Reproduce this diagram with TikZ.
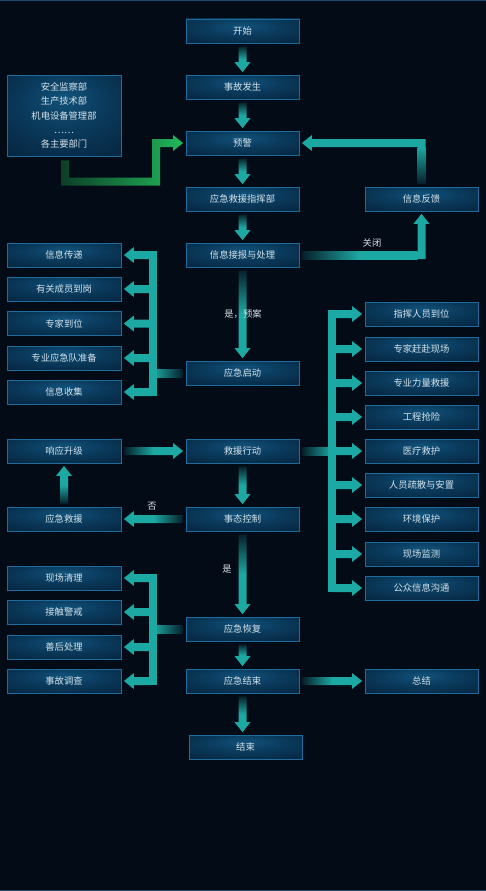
\documentclass[tikz,border=0pt]{standalone}
\usepackage{fontspec}
\newfontfamily\cjk{Noto Sans CJK SC}
\usetikzlibrary{calc}
\definecolor{bg}{HTML}{020B16}
\definecolor{tealc}{HTML}{1DA9A3}
\definecolor{tdark}{HTML}{06202B}
\definecolor{boxline}{HTML}{1D6C9B}
\definecolor{boxin}{HTML}{11527A}
\definecolor{boxmid}{HTML}{0A3A5C}
\definecolor{boxout}{HTML}{06243E}
\definecolor{txt}{HTML}{D6E2EA}
\definecolor{gdark}{HTML}{0C3F27}
\definecolor{gbright}{HTML}{21B85A}
\definecolor{frame}{HTML}{1A4B70}
\pgfdeclareradialshading{boxglow}{\pgfpoint{0bp}{12bp}}{color(0bp)=(boxin); color(18bp)=(boxmid); color(40bp)=(boxout); color(60bp)=(boxout)}

\newcommand{\DownArr}[2]{%
  \coordinate (s) at ($(#1.south)+(0,3)$);
  \coordinate (t) at ($(#1.south |- #2.north)+(0,-2.5)$);
  \path[top color=tdark, bottom color=tealc, middle color=tealc]
    ($(s)+(-4,0)$) -- ($(t)+(-4,-10)$) -- ($(t)+(-8,-10)$) -- (t) --
    ($(t)+(8,-10)$) -- ($(t)+(4,-10)$) -- ($(s)+(4,0)$) -- cycle;}
\newcommand{\UpArr}[2]{%
  \coordinate (s) at ($(#1.north)+(0,-3)$);
  \coordinate (t) at ($(#1.north |- #2.south)+(0,2.5)$);
  \path[top color=tealc, bottom color=tdark, middle color=tealc]
    ($(s)+(-4,0)$) -- ($(t)+(-4,10)$) -- ($(t)+(-8,10)$) -- (t) --
    ($(t)+(8,10)$) -- ($(t)+(4,10)$) -- ($(s)+(4,0)$) -- cycle;}
\newcommand{\RightArr}[2]{%
  \coordinate (s) at ($(#1.east)+(3,0)$);
  \coordinate (t) at ($(#1.east -| #2.west)+(-2.5,0)$);
  \path[left color=tdark, right color=tealc, middle color=tealc]
    ($(s)+(0,-4)$) -- ($(t)+(-10,-4)$) -- ($(t)+(-10,-8)$) -- (t) --
    ($(t)+(-10,8)$) -- ($(t)+(-10,4)$) -- ($(s)+(0,4)$) -- cycle;}
\newcommand{\LeftArr}[2]{%
  \coordinate (s) at ($(#1.west)+(-3,0)$);
  \coordinate (t) at ($(#1.west -| #2.east)+(2.5,0)$);
  \path[left color=tealc, right color=tdark, middle color=tealc]
    ($(s)+(0,-4)$) -- ($(t)+(10,-4)$) -- ($(t)+(10,-8)$) -- (t) --
    ($(t)+(10,8)$) -- ($(t)+(10,4)$) -- ($(s)+(0,4)$) -- cycle;}
% left bus: #1 source, #2 bar coordinate, #3 first target, #4 last target, #5 list
\newcommand{\LeftBus}[5]{%
  \path[left color=tealc, right color=tdark]
    ($(#2 |- #1.west)+(0,-4)$) rectangle ($(#1.west)+(-3,4)$);
  \fill[tealc] ($(#2 |- #3.east)+(-4,-4)$) rectangle ($(#2 |- #4.east)+(4,4)$);
  \foreach \n in {#5}{%
    \coordinate (t) at ($(\n.east)+(2.5,0)$);
    \fill[tealc] ($(#2 |- t)+(0,-4)$) -- ($(t)+(10,-4)$) -- ($(t)+(10,-8)$) -- (t) --
      ($(t)+(10,8)$) -- ($(t)+(10,4)$) -- ($(#2 |- t)+(0,4)$) -- cycle;}}
\newcommand{\RightBus}[5]{%
  \path[left color=tdark, right color=tealc]
    ($(#1.east)+(3,-4)$) rectangle ($(#2 |- #1.east)+(0,4)$);
  \fill[tealc] ($(#2 |- #3.west)+(-4,-4)$) rectangle ($(#2 |- #4.west)+(4,4)$);
  \foreach \n in {#5}{%
    \coordinate (t) at ($(\n.west)+(-2.5,0)$);
    \fill[tealc] ($(#2 |- t)+(0,-4)$) -- ($(t)+(-10,-4)$) -- ($(t)+(-10,-8)$) -- (t) --
      ($(t)+(-10,8)$) -- ($(t)+(-10,4)$) -- ($(#2 |- t)+(0,4)$) -- cycle;}}

\begin{document}
\begin{tikzpicture}[x=1pt,y=-1pt,
  box/.style={draw=boxline, line width=0.8pt, shading=boxglow,
    minimum width=113pt, minimum height=24pt, inner sep=0pt,
    font=\cjk\fontsize{9.3}{11}\selectfont, text=txt},
  lbl/.style={font=\cjk\fontsize{9.3}{11}\selectfont, text=txt, inner sep=1pt}]

\fill[bg] (0,0) rectangle (486,891);
\useasboundingbox (0,0) rectangle (486,891);
\draw[frame, line width=1.2pt] (0,0.6) -- (486,0.6);
\draw[frame, line width=1.2pt] (0,890.4) -- (486,890.4);

% centre column
\node[box] (ks) at (242.5,31) {开始};
\node[box] (sg) at (242.5,87) {事故发生};
\node[box] (yj) at (242.5,143) {预警};
\node[box] (zh) at (242.5,199) {应急救援指挥部};
\node[box] (jb) at (242.5,255) {信息接报与处理};
\node[box] (qd) at (242.5,373) {应急启动};
\node[box] (xd) at (242.5,451) {救援行动};
\node[box] (tk) at (242.5,519) {事态控制};
\node[box] (hf) at (242.5,629) {应急恢复};
\node[box] (js) at (242.5,681) {应急结束};
\node[box] (jsu) at (245.5,747) {结束};

% left column
\node[box, minimum width=114pt, minimum height=81pt, align=center,
  font=\cjk\fontsize{9.3}{14.3}\selectfont] (bm) at (64,115.5)
  {安全监察部\\生产技术部\\机电设备管理部\\……\\各主要部门};
\node[box, minimum width=114pt] (xxcd) at (64,255) {信息传递};
\node[box, minimum width=114pt] (ygcy) at (64,289) {有关成员到岗};
\node[box, minimum width=114pt] (zjdw) at (64,323.5) {专家到位};
\node[box, minimum width=114pt] (zyyj) at (64,358) {专业应急队准备};
\node[box, minimum width=114pt] (xxsj) at (64,392) {信息收集};
\node[box, minimum width=114pt] (xysj) at (64,451) {响应升级};
\node[box, minimum width=114pt] (yjjy) at (64,519) {应急救援};
\node[box, minimum width=114pt] (xcql) at (64,578) {现场清理};
\node[box, minimum width=114pt] (jcjj) at (64,612) {接触警戒};
\node[box, minimum width=114pt] (shcl) at (64,647) {善后处理};
\node[box, minimum width=114pt] (sgdc) at (64,681) {事故调查};

% right column
\node[box] (fk) at (421.5,199) {信息反馈};
\node[box] (zhry) at (421.5,314) {指挥人员到位};
\node[box] (zjgf) at (421.5,349) {专家赶赴现场};
\node[box] (zyll) at (421.5,383) {专业力量救援};
\node[box] (gcqx) at (421.5,417) {工程抢险};
\node[box] (ylju) at (421.5,451) {医疗救护};
\node[box] (rysh) at (421.5,485) {人员疏散与安置};
\node[box] (hjbh) at (421.5,519) {环境保护};
\node[box] (xcjc) at (421.5,554) {现场监测};
\node[box] (gzxx) at (421.5,588) {公众信息沟通};
\node[box] (zj) at (421.5,681) {总结};

% straight arrows
\DownArr{ks}{sg}
\DownArr{sg}{yj}
\DownArr{yj}{zh}
\DownArr{zh}{jb}
\DownArr{jb}{qd}
\DownArr{xd}{tk}
\DownArr{tk}{hf}
\DownArr{hf}{js}
\DownArr{js}{jsu}
\RightArr{xysj}{xd}
\RightArr{js}{zj}
\LeftArr{tk}{yjjy}
\UpArr{yjjy}{xysj}

% departments -> warning (green)
\coordinate (gs) at ($(bm.south)+(1,4)$);
\coordinate (gc) at (156,181.5);
\coordinate (gt) at ($(yj.west)+(-2.5,0)$);
\path[left color=gdark, right color=gbright]
  ($(gs)+(-4,0)$) -- ($(gs |- gc)+(-4,4)$) -- ($(gc)+(4,4)$) --
  ($(gc |- gt)+(4,4)$) -- ($(gt)+(-10,4)$) -- ($(gt)+(-10,8)$) -- (gt) --
  ($(gt)+(-10,-8)$) -- ($(gt)+(-10,-4)$) -- ($(gc |- gt)+(-4,-4)$) --
  ($(gc)+(-4,-4)$) -- ($(gs |- gc)+(4,-4)$) -- ($(gs)+(4,0)$) -- cycle;

% feedback -> warning
\coordinate (fc) at (fk.north |- yj.east);
\coordinate (ft) at ($(yj.east)+(2.5,0)$);
\path[top color=tealc, bottom color=tdark]
  ($(fc)+(-4,4)$) rectangle ($(fk.north)+(4,-3)$);
\fill[tealc] ($(fc)+(4,-4)$) -- ($(fc)+(4,4)$) -- ($(ft)+(10,4)$) --
  ($(ft)+(10,8)$) -- (ft) -- ($(ft)+(10,-8)$) -- ($(ft)+(10,-4)$) -- cycle;

% report -> feedback (closed)
\coordinate (rc) at (fk.south |- jb.east);
\coordinate (rt) at ($(fk.south)+(0,2.5)$);
\path[left color=tdark, right color=tealc, middle color=tealc]
  ($(jb.east)+(3,-4)$) rectangle ($(rc)+(-4,4)$);
\fill[tealc] ($(rc)+(-4,4)$) -- ($(rt)+(-4,10)$) -- ($(rt)+(-8,10)$) -- (rt) --
  ($(rt)+(8,10)$) -- ($(rt)+(4,10)$) -- ($(rc)+(4,4)$) -- cycle;

% buses
\coordinate (bl) at (153,0);
\coordinate (br) at (332,0);
\LeftBus{qd}{bl}{xxcd}{xxsj}{xxcd,ygcy,zjdw,zyyj,xxsj}
\LeftBus{hf}{bl}{xcql}{sgdc}{xcql,jcjj,shcl,sgdc}
\RightBus{xd}{br}{zhry}{gzxx}{zhry,zjgf,zyll,gcqx,ylju,rysh,hjbh,xcjc,gzxx}

% labels
\node[lbl] (lgb) at (372,243) {关闭};
\node[lbl] (lya) at (243,314) {是，预案};
\node[lbl] (lf) at (152,506) {否};
\node[lbl] (ls) at (227,569) {是};
\end{tikzpicture}
\end{document}
